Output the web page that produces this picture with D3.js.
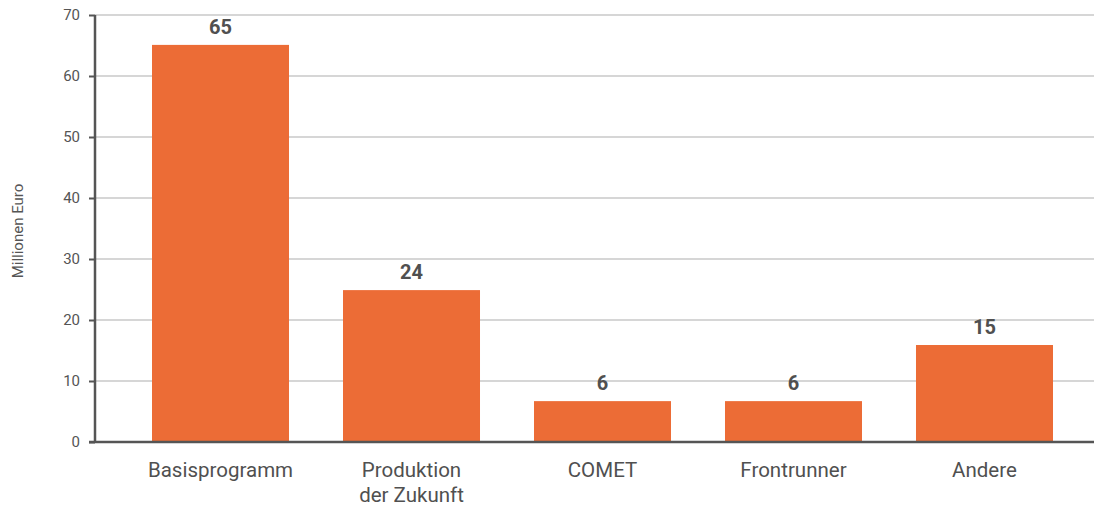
<!DOCTYPE html>
<html><head><meta charset="utf-8">
<script src="https://cdn.jsdelivr.net/npm/d3@7"></script>
<style>body{margin:0;background:#fff}svg{display:block}</style>
</head><body>
<svg id="c" width="1094" height="508"></svg>
<script>
const categories = ["Basisprogramm", "Produktion\nder Zukunft", "COMET", "Frontrunner", "Andere"];
const values = [65.1, 24.9, 6.7, 6.7, 15.9];
const valueLabels = ["65", "24", "6", "6", "15"];
const yTicks = [0, 10, 20, 30, 40, 50, 60, 70];
const yTitle = "Millionen Euro";

const svg = d3.select("#c");
const font = "Roboto, 'DejaVu Sans', sans-serif";
const x = d3.scaleBand().domain(categories).range([125, 1080]).paddingInner(0.2827).paddingOuter(0.1414);
const y = d3.scaleLinear().domain([0, 70]).range([442, 15]);

// grid
svg.append("g").selectAll("line").data(yTicks.filter(d => d > 0)).join("line")
  .attr("x1", 95).attr("x2", 1094).attr("y1", d => y(d)).attr("y2", d => y(d))
  .attr("stroke", "#d6d6d6").attr("stroke-width", 2);

// bars
svg.append("g").selectAll("rect").data(categories).join("rect")
  .attr("x", d => x(d)).attr("width", x.bandwidth())
  .attr("y", (d, i) => y(values[i])).attr("height", (d, i) => y(0) - y(values[i]))
  .attr("fill", "#ec6c36");

// value labels
svg.append("g").selectAll("text").data(categories).join("text")
  .attr("x", d => x(d) + x.bandwidth() / 2).attr("y", (d, i) => y(values[i]) - 11)
  .attr("text-anchor", "middle").attr("font-family", font).attr("font-weight", "bold")
  .attr("font-size", 20).attr("fill", "#505050").text((d, i) => valueLabels[i]);

// y axis
const yAxis = d3.axisLeft(y).tickValues(yTicks).tickSize(6).tickPadding(9);
const ga = svg.append("g").attr("transform", "translate(95,0)").call(yAxis);
ga.select(".domain").attr("stroke", "#555").attr("stroke-width", 2.5).attr("d", "M0,15V442");
ga.selectAll(".tick line").attr("stroke", "#555").attr("stroke-width", 2);
ga.selectAll(".tick text").attr("font-family", font).attr("font-size", 15).attr("fill", "#555");

// x baseline
svg.append("line").attr("x1", 89).attr("x2", 1094).attr("y1", y(0)).attr("y2", y(0))
  .attr("stroke", "#555").attr("stroke-width", 2.5);

// x labels
const xl = svg.append("g").selectAll("text").data(categories).join("text")
  .attr("x", d => x(d) + x.bandwidth() / 2).attr("y", 477)
  .attr("text-anchor", "middle").attr("font-family", font).attr("font-size", 20.5).attr("fill", "#505050");
xl.selectAll("tspan").data(d => d.split("\n")).join("tspan")
  .attr("x", function () { return this.parentNode.getAttribute("x"); })
  .attr("dy", (d, i) => i === 0 ? 0 : 25).text(d => d);

// y title
svg.append("text").attr("transform", "translate(23,231) rotate(-90)")
  .attr("text-anchor", "middle").attr("font-family", font).attr("font-size", 15).attr("fill", "#555")
  .text(yTitle);
</script>
</body></html>
